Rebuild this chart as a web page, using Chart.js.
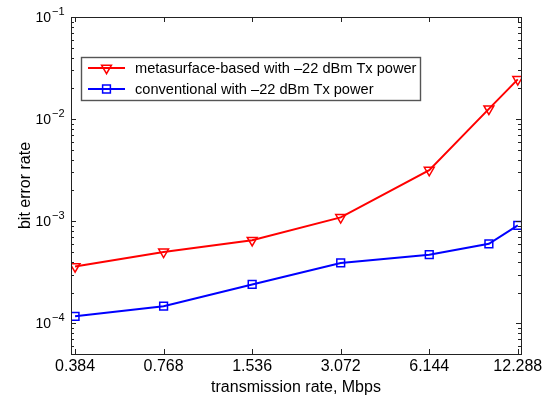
<!DOCTYPE html>
<html>
<head>
<meta charset="utf-8">
<script src="https://cdn.jsdelivr.net/npm/chart.js@4/dist/chart.umd.min.js"></script>
<style>
  html, body { margin: 0; padding: 0; background: #fff; }
  canvas { display: block; }
</style>
</head>
<body>
<canvas id="berChart" width="552" height="397"></canvas>
<script>
    // transmission rates (Mbps) and measured bit error rates
    var rates = [0.384, 0.768, 1.536, 3.072, 6.144, 9.8, 12.288];
    var xTickValues = [0.384, 0.768, 1.536, 3.072, 6.144, 12.288];
    var metasurfaceBer = [3.6e-4, 5.0e-4, 6.5e-4, 1.09e-3, 3.16e-3, 1.26e-2, 2.45e-2];
    var conventionalBer = [1.17e-4, 1.47e-4, 2.4e-4, 3.9e-4, 4.7e-4, 6.0e-4, 9.1e-4];
    var yDecades = [-4, -3, -2, -1];
    var seriesLabels = ['metasurface-based with \u201322 dBm Tx power', 'conventional with \u201322 dBm Tx power'];

    var FONT = '"Liberation Sans", Arial, Helvetica, sans-serif';

    function toPoints(xs, ys) {
        return xs.map(function (x, i) { return { x: x, y: ys[i] }; });
    }

    // MATLAB style frame, inward ticks, superscript labels and inset legend
    var matlabAxes = {
        id: 'matlabAxes',
        afterDraw: function (chart) {
            var ctx = chart.ctx, a = chart.chartArea;
            var xs = chart.scales.x, ys = chart.scales.y;
            ctx.save();
            ctx.strokeStyle = '#222';
            ctx.lineWidth = 1;
            ctx.strokeRect(Math.round(a.left) + 0.5, Math.round(a.top) + 0.5,
                Math.round(a.right - a.left), Math.round(a.bottom - a.top));

            ctx.beginPath();
            xTickValues.forEach(function (v) {
                var px = Math.round(xs.getPixelForValue(v)) + 0.5;
                ctx.moveTo(px, a.bottom); ctx.lineTo(px, a.bottom - 5);
                ctx.moveTo(px, a.top); ctx.lineTo(px, a.top + 5);
            });
            // y ticks: majors at decades, minors at 2..9
            for (var e = -5; e <= -1; e++) {
                for (var k = 1; k <= 9; k++) {
                    var v = k * Math.pow(10, e);
                    if (v < ys.min * 0.999 || v > ys.max * 1.001) continue;
                    var py = Math.round(ys.getPixelForValue(v)) + 0.5;
                    var len = k === 1 ? 5 : 3;
                    ctx.moveTo(a.left, py); ctx.lineTo(a.left + len, py);
                    ctx.moveTo(a.right, py); ctx.lineTo(a.right - len, py);
                }
            }
            ctx.stroke();

            // y tick labels 10^n
            ctx.fillStyle = '#000';
            yDecades.forEach(function (n) {
                var py = ys.getPixelForValue(Math.pow(10, n));
                ctx.font = '14px ' + FONT;
                ctx.textAlign = 'right';
                ctx.textBaseline = 'middle';
                ctx.fillText('10', 51, py + 1);
                ctx.font = '11px ' + FONT;
                ctx.textAlign = 'left';
                ctx.fillText('\u2212' + Math.abs(n), 52, py - 5);
            });

            // legend
            var lx = 81, ly = 57, lw = 339, lh = 43;
            ctx.fillStyle = '#fff';
            ctx.fillRect(lx, ly, lw, lh);
            ctx.strokeStyle = '#555';
            ctx.lineWidth = 1.4;
            ctx.strokeRect(lx + 0.5, ly + 0.5, lw, lh);
            chart.data.datasets.forEach(function (ds, i) {
                var yy = ly + 11 + i * 21;
                ctx.strokeStyle = ds.borderColor;
                ctx.lineWidth = ds.borderWidth;
                ctx.beginPath();
                ctx.moveTo(88, yy); ctx.lineTo(125, yy);
                ctx.stroke();
                ctx.fillStyle = 'rgba(0,0,0,0)';
                ctx.lineWidth = ds.pointBorderWidth;
                Chart.helpers.drawPoint(ctx, {
                    pointStyle: ds.pointStyle,
                    rotation: ds.pointRotation || 0,
                    radius: ds.pointRadius,
                    borderWidth: ds.pointBorderWidth
                }, 106.5, yy);
                ctx.fillStyle = '#000';
                ctx.font = '14.6px ' + FONT;
                ctx.textAlign = 'left';
                ctx.textBaseline = 'middle';
                ctx.fillText(ds.label, 135, yy + 1);
            });
            ctx.restore();
        }
    };

    var ctx = document.getElementById('berChart').getContext('2d');

    var berChart = new Chart(ctx, {
        type: 'line',
        data: {
            datasets: [
                {
                    label: seriesLabels[0],
                    data: toPoints(rates, metasurfaceBer),
                    borderColor: '#ff0000',
                    borderWidth: 2,
                    pointStyle: 'triangle',
                    pointRotation: 180,
                    pointRadius: 5.7,
                    pointBorderWidth: 1.5,
                    pointBackgroundColor: 'rgba(0,0,0,0)',
                    pointBorderColor: '#ff0000',
                    fill: false,
                    tension: 0
                },
                {
                    label: seriesLabels[1],
                    data: toPoints(rates, conventionalBer),
                    borderColor: '#0000ff',
                    borderWidth: 2,
                    pointStyle: 'rect',
                    pointRadius: 5.5,
                    pointBorderWidth: 1.5,
                    pointBackgroundColor: 'rgba(0,0,0,0)',
                    pointBorderColor: '#0000ff',
                    fill: false,
                    tension: 0
                }
            ]
        },
        options: {
            responsive: false,
            animation: false,
            devicePixelRatio: 1,
            layout: { padding: { top: 17, right: 31, left: 0, bottom: 0 } },
            scales: {
                x: {
                    type: 'logarithmic',
                    min: 0.372,
                    max: 12.6,
                    afterBuildTicks: function (scale) {
                        scale.ticks = xTickValues.map(function (v) { return { value: v }; });
                    },
                    afterFit: function (scale) { scale.height = 43; },
                    grid: { display: false, drawTicks: false },
                    border: { display: false },
                    ticks: {
                        autoSkip: false,
                        maxRotation: 0,
                        padding: 3,
                        color: '#000',
                        font: { family: FONT, size: 16 },
                        callback: function (value) { return Number(value).toFixed(3); }
                    },
                    title: {
                        display: true,
                        text: 'transmission rate, Mbps',
                        color: '#000',
                        font: { family: FONT, size: 16 },
                        padding: { top: 0, bottom: 0 }
                    }
                },
                y: {
                    type: 'logarithmic',
                    min: 5e-5,
                    max: 0.1,
                    afterFit: function (scale) { scale.width = 71; },
                    grid: { display: false, drawTicks: false },
                    border: { display: false },
                    ticks: { display: false },
                    title: {
                        display: true,
                        text: 'bit error rate',
                        color: '#000',
                        font: { family: FONT, size: 16 },
                        padding: { top: 16, bottom: 0 }
                    }
                }
            },
            plugins: {
                legend: { display: false },
                tooltip: { enabled: false }
            }
        },
        plugins: [matlabAxes]
    });
</script>
</body>
</html>
